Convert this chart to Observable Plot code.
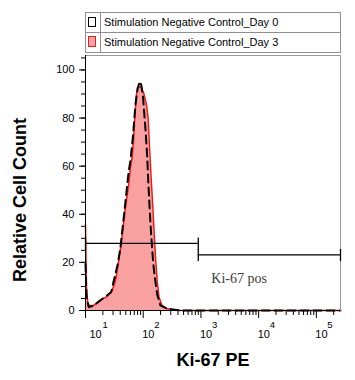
<!DOCTYPE html>
<html>
<head>
<meta charset="utf-8">
<script src="https://cdn.jsdelivr.net/npm/d3@7"></script>
<script src="https://cdn.jsdelivr.net/npm/@observablehq/plot@0.6"></script>
<style>
  body { margin: 0; background: #fff; font-family: "Liberation Sans", Arial, sans-serif; }
  #wrap { position: relative; width: 355px; height: 380px; }
  #chart svg { display: block; }
  #legend { position: absolute; left: 85px; top: 12px; width: 256px; height: 41px; border: 1px solid #8f8f8f; box-sizing: border-box; background: #fff; }
  #legend .vdiv { position: absolute; left: 14px; top: 0; width: 1px; height: 100%; background: #8f8f8f; }
  #legend .hdiv { position: absolute; left: 0; top: 19px; width: 100%; height: 1px; background: #8f8f8f; }
  #legend .sw { position: absolute; left: 2px; width: 8px; height: 10px; box-sizing: border-box; }
  #legend .lab { position: absolute; left: 18px; font-size: 11px; line-height: 11px; white-space: nowrap; color: #000; }
</style>
</head>
<body>
<div id="wrap">
  <div id="chart"></div>
  <div id="legend"></div>
</div>
<script>
// ---- data ----
const legendLabels = ["Stimulation Negative Control_Day 0", "Stimulation Negative Control_Day 3"];

// Day 3 histogram (filled red)
const day3Intensity = [10, 10.4, 11, 13.9, 18.2, 23.7, 29, 33, 36.2, 39.2, 41.5, 44.9, 49.2, 56.1, 60, 64.3, 68.5, 71.3, 76.3, 80.3, 89.4, 102, 113.6, 121.6, 128, 137, 148, 156, 165, 174, 188, 212, 259, 440, 1000, 10000, 100000, 262144];
const day3Count = [35.9, 10, 2.1, 2.1, 4.4, 5.8, 8.3, 12.4, 17.9, 23.5, 27.6, 34.5, 42.8, 52.5, 59.3, 63.5, 71.8, 80, 89.7, 92.5, 93.2, 90.4, 85.6, 80, 69, 55.2, 41.4, 30.4, 20.7, 12.4, 5.5, 2.1, 0.7, 0, 0, 0, 0, 0];

// Day 0 histogram (dashed black)
const day0Intensity = [10, 10.4, 11.4, 13.9, 19.5, 27.8, 36.2, 40.3, 46, 56.1, 60, 66.9, 73.3, 80.3, 87, 93.1, 99.6, 109, 116.8, 121.6, 128, 137, 148, 156, 174, 198, 259, 440, 1000, 10000, 100000, 262144];
const day0Count = [19.3, 6, 1.4, 2.1, 4.8, 7.6, 19.3, 26.2, 38.6, 58, 62.1, 73.2, 85.6, 92.5, 95.2, 93.6, 88.3, 75.9, 64.9, 55.2, 44.2, 31.8, 20.7, 15.2, 6.9, 2.1, 0.7, 0, 0, 0, 0, 0];

// Gates
const gateNames = ["Ki-67 neg", "Ki-67 pos"];
const gateStart = [10, 900];
const gateEnd = [900, 262144];
const gateLevel = [27.9, 23.1];
const gateLabel = "Ki-67 pos";

// Ticks
const yMajor = [0, 20, 40, 60, 80, 100];
const yMinor = [0, 5, 10, 15, 20, 25, 30, 35, 40, 45, 50, 55, 60, 65, 70, 75, 80, 85, 90, 95, 100, 105];
const xMajor = [10, 100, 1000, 10000, 100000];
const xMinorMult = [2, 3, 4, 5, 6, 7, 8, 9];
const xLabelBase = "10";

const xLabel = "Ki-67 PE";
const yLabel = "Relative Cell Count";

// ---- build ----
const day3 = day3Intensity.map((x, i) => ({x, y: day3Count[i]}));
const day0 = day0Intensity.map((x, i) => ({x, y: day0Count[i]}));
const gates = gateNames.map((name, i) => ({name, x1: gateStart[i], x2: gateEnd[i], y: gateLevel[i]}));
const gateEnds = gates.flatMap(g => [{x: g.x1, y: g.y}, {x: g.x2, y: g.y}]);
const xMinor = xMajor.flatMap(d => xMinorMult.map(m => d * m)).filter(v => v <= 262144);

const vbar = { draw(ctx) { ctx.moveTo(0, -6); ctx.lineTo(0, 6); } };

const font = "Liberation Sans, Arial, sans-serif";
const first = xMajor.slice(0, 1), rest = xMajor.slice(1);
const expText = d => String(Math.round(Math.log10(d)));

const chart = Plot.plot({
  width: 355, height: 380,
  marginLeft: 85, marginRight: 15, marginTop: 55, marginBottom: 70,
  style: { fontFamily: font, fontSize: "11px", color: "#000", background: "#fff" },
  x: { type: "log", domain: [10, 262144] },
  y: { domain: [0, 106] },
  marks: [
    Plot.areaY(day3, { x: "x", y: "y", fill: "#f9a0a0" }),
    Plot.lineY(day3, { x: "x", y: "y", stroke: "#ee1a1a", strokeWidth: 1.5 }),
    Plot.lineY(day0, { x: "x", y: "y", stroke: "#000", strokeWidth: 2, strokeDasharray: "8,5" }),
    Plot.frame({ stroke: "#999" }),
    Plot.ruleX([10], { stroke: "#000" }),
    Plot.ruleY([0], { stroke: "#000" }),
    Plot.axisY({ ticks: yMajor, tickSize: 6, tickPadding: 5, label: null, fontSize: 11 }),
    Plot.axisY({ ticks: yMinor, tickSize: 4, tickFormat: () => "", label: null }),
    Plot.axisX({ ticks: xMajor, tickSize: 8, tickFormat: () => "", label: null }),
    Plot.axisX({ ticks: xMinor, tickSize: 5, tickFormat: () => "", label: null }),
    // x tick labels 10^n
    Plot.text(first, { x: d => d, text: () => xLabelBase, frameAnchor: "bottom", dy: 27, dx: 4, textAnchor: "start", lineAnchor: "bottom", fontSize: 11 }),
    Plot.text(first, { x: d => d, text: expText, frameAnchor: "bottom", dy: 17, dx: 17, textAnchor: "start", lineAnchor: "bottom", fontSize: 9.5 }),
    Plot.text(rest, { x: d => d, text: () => xLabelBase, frameAnchor: "bottom", dy: 27, dx: -1, textAnchor: "start", lineAnchor: "bottom", fontSize: 11 }),
    Plot.text(rest, { x: d => d, text: expText, frameAnchor: "bottom", dy: 17, dx: 11, textAnchor: "start", lineAnchor: "bottom", fontSize: 9.5 }),
    // gates
    Plot.ruleY(gates, { y: "y", x1: "x1", x2: "x2", stroke: "#000", strokeWidth: 1.3 }),
    Plot.dot(gateEnds, { x: "x", y: "y", symbol: vbar, stroke: "#000", strokeWidth: 1.3, fill: "none" }),
    Plot.text([gates[1]], { x: "x1", y: "y", text: () => gateLabel, dx: 13, dy: 28, textAnchor: "start", lineAnchor: "bottom", fontFamily: "Liberation Serif, Times New Roman, serif", fontSize: 14, fill: "#3c3c3c" }),
    // axis titles
    Plot.text([xLabel], { frameAnchor: "bottom", dy: 55, textAnchor: "middle", lineAnchor: "bottom", fontSize: 18, fontWeight: "bold" }),
    Plot.text([yLabel], { frameAnchor: "left", dx: -60, dy: 17, rotate: -90, textAnchor: "middle", lineAnchor: "bottom", fontSize: 18, fontWeight: "bold" })
  ]
});
document.getElementById("chart").appendChild(chart);

// legend
const legend = document.getElementById("legend");
legend.innerHTML = '<div class="vdiv"></div><div class="hdiv"></div>';
const swStyles = [
  "top:4px;border:1.5px solid #000;background:#fff;",
  "top:23px;height:11px;border:1.2px solid #e02020;background:#f9a0a0;"
];
const labTops = [4, 24];
legendLabels.forEach((t, i) => {
  const sw = document.createElement("div");
  sw.className = "sw"; sw.style.cssText = swStyles[i];
  legend.appendChild(sw);
  const lab = document.createElement("div");
  lab.className = "lab"; lab.style.top = labTops[i] + "px"; lab.textContent = t;
  legend.appendChild(lab);
});
</script>
</body>
</html>
